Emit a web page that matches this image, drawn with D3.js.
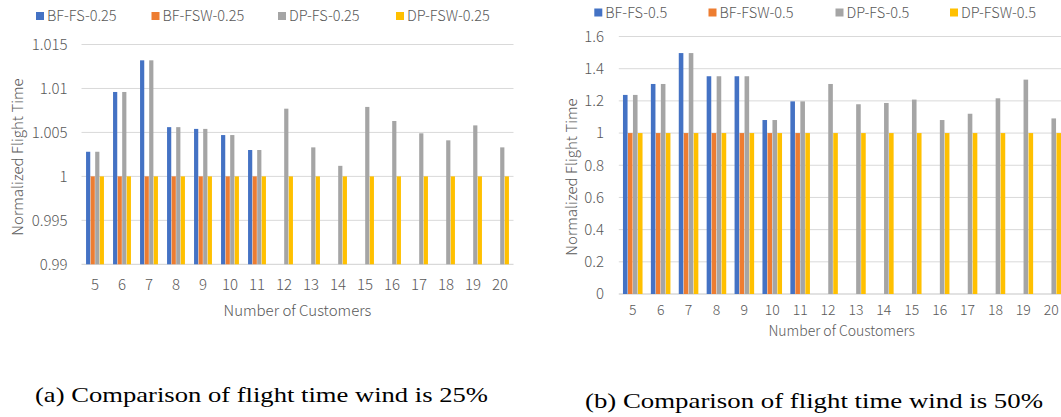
<!DOCTYPE html>
<html>
<head>
<meta charset="utf-8">
<script src="https://cdn.jsdelivr.net/npm/d3@7"></script>
<style>
  html, body { margin: 0; padding: 0; background: #fff; }
  svg { display: block; }
  .lbl { font-family: "Noto Sans CJK JP", "Noto Sans", sans-serif; font-weight: 300; fill: #595959; }
  .cap { font-family: "Liberation Serif", "DejaVu Serif", serif; fill: #000; }
</style>
</head>
<body>
<svg id="chart" width="1061" height="417"></svg>
<script>
// ---- data ----
const categories = [5, 6, 7, 8, 9, 10, 11, 12, 13, 14, 15, 16, 17, 18, 19, 20];

const seriesNames25 = ["BF-FS-0.25", "BF-FSW-0.25", "DP-FS-0.25", "DP-FSW-0.25"];
const bfFs25  = [1.0028, 1.0096, 1.0132, 1.0056, 1.0054, 1.0047, 1.0030, null, null, null, null, null, null, null, null, null];
const bfFsw25 = [1, 1, 1, 1, 1, 1, 1, null, null, null, null, null, null, null, null, null];
const dpFs25  = [1.0028, 1.0096, 1.0132, 1.0056, 1.0054, 1.0047, 1.0030, 1.0077, 1.0033, 1.0012, 1.0079, 1.0063, 1.0049, 1.0041, 1.0058, 1.0033];
const dpFsw25 = [1, 1, 1, 1, 1, 1, 1, 1, 1, 1, 1, 1, 1, 1, 1, 1];
const yTicks25 = [0.99, 0.995, 1, 1.005, 1.01, 1.015];
const yTickLabels25 = ["0.99", "0.995", "1", "1.005", "1.01", "1.015"];

const seriesNames50 = ["BF-FS-0.5", "BF-FSW-0.5", "DP-FS-0.5", "DP-FSW-0.5"];
const bfFs50  = [1.237, 1.305, 1.497, 1.353, 1.353, 1.081, 1.197, null, null, null, null, null, null, null, null, null];
const bfFsw50 = [1, 1, 1, 1, 1, 1, 1, null, null, null, null, null, null, null, null, null];
const dpFs50  = [1.237, 1.305, 1.497, 1.353, 1.353, 1.081, 1.197, 1.305, 1.179, 1.187, 1.208, 1.081, 1.120, 1.216, 1.332, 1.091];
const dpFsw50 = [1, 1, 1, 1, 1, 1, 1, 1, 1, 1, 1, 1, 1, 1, 1, 1];
const yTicks50 = [0, 0.2, 0.4, 0.6, 0.8, 1, 1.2, 1.4, 1.6];
const yTickLabels50 = ["0", "0.2", "0.4", "0.6", "0.8", "1", "1.2", "1.4", "1.6"];

const colors = ["#4472C4", "#ED7D31", "#A5A5A5", "#FFC000"];

const svg = d3.select("#chart");

function drawChart(cfg) {
  const g = svg.append("g");
  const x = d3.scaleBand().domain(categories).range([cfg.left, cfg.right]).paddingInner(cfg.pad).paddingOuter(cfg.pad / 2);
  const xs = d3.scaleBand().domain(d3.range(4)).range([0, x.bandwidth()]).padding(0.08);
  const y = d3.scaleLinear().domain(cfg.domain).range([cfg.bottom, cfg.top]);

  // gridlines
  g.selectAll("line.grid").data(cfg.ticks).join("line")
    .attr("x1", cfg.left).attr("x2", cfg.right)
    .attr("y1", d => y(d)).attr("y2", d => y(d))
    .attr("stroke", "#D9D9D9").attr("stroke-width", d => d === cfg.domain[0] ? 1.3 : 1);

  // y tick labels
  g.selectAll("text.yt").data(cfg.ticks).join("text")
    .attr("class", "lbl")
    .attr("x", cfg.yLabelX).attr("y", d => y(d))
    .attr("dy", "0.35em").attr("text-anchor", "end")
    .attr("font-size", 15)
    .text((d, i) => cfg.tickLabels[i]);

  // bars
  cfg.series.forEach((vals, si) => {
    g.selectAll("rect.s" + si).data(vals.map((v, i) => ({ v, c: categories[i] })).filter(d => d.v != null))
      .join("rect")
      .attr("x", d => x(d.c) + xs(si))
      .attr("width", xs.bandwidth())
      .attr("y", d => y(d.v))
      .attr("height", d => y(cfg.domain[0]) - y(d.v))
      .attr("fill", colors[si]);
  });

  // x tick labels
  g.selectAll("text.xt").data(categories).join("text")
    .attr("class", "lbl")
    .attr("x", d => x(d) + x.bandwidth() / 2).attr("y", cfg.xLabelY)
    .attr("dy", "0.35em").attr("text-anchor", "middle")
    .attr("font-size", cfg.xFont)
    .text(d => d);

  // axis titles
  g.append("text").attr("class", "lbl")
    .attr("x", cfg.xTitleX).attr("y", cfg.xTitleY).attr("dy", "0.35em")
    .attr("text-anchor", "middle").attr("font-size", cfg.xFont)
    .text(cfg.xTitle);
  g.append("text").attr("class", "lbl")
    .attr("transform", `translate(${cfg.yTitleX},${cfg.yTitleY}) rotate(-90)`)
    .attr("dy", "0.35em").attr("text-anchor", "middle").attr("font-size", 15)
    .text("Normalized Flight Time");

  // legend
  cfg.names.forEach((n, i) => {
    g.append("rect").attr("x", cfg.legendX[i]).attr("y", cfg.legendY - 4)
      .attr("width", 8).attr("height", 8).attr("fill", colors[i]);
    g.append("text").attr("class", "lbl")
      .attr("x", cfg.legendX[i] + 11).attr("y", cfg.legendY).attr("dy", "0.35em")
      .attr("font-size", 14.5).text(n);
  });
}

drawChart({
  left: 81.5, right: 513.5, top: 44.5, bottom: 264.3, pad: 0.31,
  domain: [0.99, 1.015], ticks: yTicks25, tickLabels: yTickLabels25,
  series: [bfFs25, bfFsw25, dpFs25, dpFsw25], names: seriesNames25, xFont: 15,
  yLabelX: 67.5, xLabelY: 284.5, xTitle: "Number of Customers", xTitleX: 297.5, xTitleY: 310.5,
  yTitleX: 17.5, yTitleY: 157, legendX: [36, 151.5, 278, 396], legendY: 16
});

drawChart({
  left: 618.8, right: 1065.2, top: 36.5, bottom: 294, pad: 0.27,
  domain: [0, 1.6], ticks: yTicks50, tickLabels: yTickLabels50,
  series: [bfFs50, bfFsw50, dpFs50, dpFsw50], names: seriesNames50, xFont: 14,
  yLabelX: 604, xLabelY: 310.5, xTitle: "Number of Coustomers", xTitleX: 841.7, xTitleY: 331.5,
  yTitleX: 571.7, yTitleY: 177, legendX: [594.3, 708.5, 835.5, 950], legendY: 12.5
});

// captions
svg.append("text").attr("class", "cap").attr("x", 35).attr("y", 402)
  .attr("font-size", 21).attr("textLength", 453).attr("lengthAdjust", "spacingAndGlyphs")
  .text("(a) Comparison of flight time wind is 25%");
svg.append("text").attr("class", "cap").attr("x", 585).attr("y", 408)
  .attr("font-size", 21).attr("textLength", 458).attr("lengthAdjust", "spacingAndGlyphs")
  .text("(b) Comparison of flight time wind is 50%");
</script>
</body>
</html>
